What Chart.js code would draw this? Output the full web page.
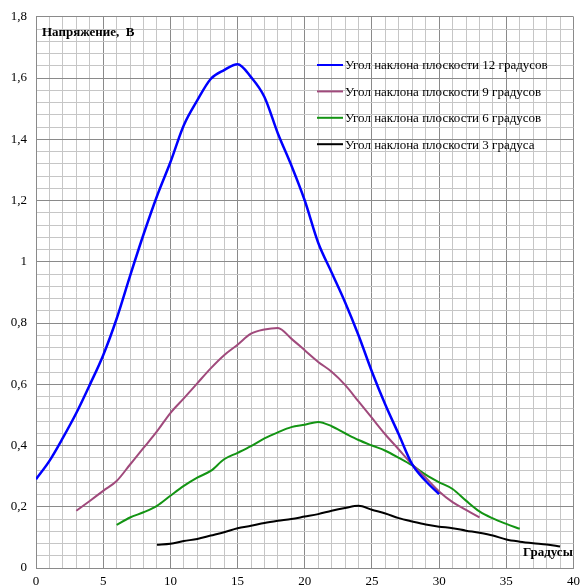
<!DOCTYPE html>
<html>
<head>
<meta charset="utf-8">
<script src="https://cdn.jsdelivr.net/npm/chart.js@4/dist/chart.umd.min.js"></script>
<style>
    html, body { margin: 0; padding: 0; background: #fff; }
    canvas { display: block; }
</style>
</head>
<body>
<canvas id="voltageChart" width="586" height="588"></canvas>
<script>
// Data (x = градусы, y = вольты)
const seriesNames = [
    'Угол наклона плоскости 12 градусов',
    'Угол наклона плоскости 9 градусов',
    'Угол наклона плоскости 6 градусов',
    'Угол наклона плоскости 3 градуса'
];
const seriesStart = [0, 3, 6, 9];

const volts12 = [0.29, 0.35, 0.425, 0.506, 0.598, 0.695, 0.814, 0.954, 1.089, 1.214,
    1.325, 1.446, 1.527, 1.597, 1.626, 1.645, 1.603, 1.538, 1.419, 1.315,
    1.2, 1.062, 0.965, 0.868, 0.76, 0.641, 0.533, 0.436, 0.338, 0.284, 0.241];
const volts9 = [0.187, 0.219, 0.252, 0.284, 0.338, 0.392, 0.446, 0.506, 0.554, 0.603,
    0.652, 0.695, 0.729, 0.765, 0.779, 0.784, 0.749, 0.711, 0.673, 0.641,
    0.598, 0.544, 0.49, 0.436, 0.387, 0.338, 0.295, 0.25, 0.215, 0.19, 0.165];
const volts6 = [0.141, 0.165, 0.182, 0.203, 0.236, 0.268, 0.295, 0.317, 0.355, 0.376,
    0.398, 0.423, 0.443, 0.46, 0.468, 0.477, 0.463, 0.44, 0.418, 0.4,
    0.383, 0.36, 0.335, 0.305, 0.28, 0.258, 0.22, 0.185, 0.162, 0.144, 0.128];
const volts3 = [0.076, 0.079, 0.088, 0.095, 0.106, 0.117, 0.13, 0.138, 0.147, 0.154,
    0.16, 0.168, 0.176, 0.187, 0.196, 0.203, 0.19, 0.178, 0.163, 0.152,
    0.142, 0.135, 0.13, 0.122, 0.115, 0.106, 0.093, 0.086, 0.081, 0.077, 0.07];

const xTickLabels = [0, 5, 10, 15, 20, 25, 30, 35, 40];
const yTickLabels = ['0', '0,2', '0,4', '0,6', '0,8', '1', '1,2', '1,4', '1,6', '1,8'];

const lineColors = ['#0000ff', '#a04a7c', '#139413', '#000000'];
const lineWidths = [2.5, 2, 2, 2];

const serif = "'Liberation Serif', 'Times New Roman', serif";
const majorGrid = '#8a8a8a';
const minorGrid = '#c6c6c6';

function toPoints(values, start) {
    return values.map((v, i) => ({ x: start + i, y: v }));
}

const allValues = [volts12, volts9, volts6, volts3];

// legend + axis captions inside the plot area
const captionPlugin = {
    id: 'captions',
    afterDatasetsDraw(chart) {
        const ctx = chart.ctx;
        ctx.save();
        ctx.fillStyle = '#000';
        ctx.textBaseline = 'middle';
        ctx.font = 'bold 13px ' + serif;
        ctx.textAlign = 'left';
        ctx.fillText('Напряжение,  В', 42, 33);
        ctx.fillText('Градусы', 523, 553);

        ctx.font = '13px ' + serif;
        chart.data.datasets.forEach((ds, i) => {
            const y = 65 + i * 26.4;
            ctx.strokeStyle = ds.borderColor;
            ctx.lineWidth = 2;
            ctx.beginPath();
            ctx.moveTo(317, y);
            ctx.lineTo(343, y);
            ctx.stroke();
            ctx.fillText(ds.label, 345, y + 1);
        });
        ctx.restore();
    }
};

new Chart(document.getElementById('voltageChart'), {
    type: 'line',
    data: {
        datasets: allValues.map((vals, i) => ({
            label: seriesNames[i],
            data: toPoints(vals, seriesStart[i]),
            borderColor: lineColors[i],
            borderWidth: lineWidths[i],
            pointRadius: 0,
            cubicInterpolationMode: 'monotone',
            fill: false
        }))
    },
    options: {
        responsive: false,
        animation: false,
        layout: { padding: { top: 12, right: 9, left: 0, bottom: 0 } },
        plugins: {
            legend: { display: false },
            tooltip: { enabled: false }
        },
        scales: {
            x: {
                type: 'linear',
                min: 0,
                max: 40,
                afterFit(scale) { scale.height = 20; },
                afterBuildTicks(scale) {
                    scale.ticks = [];
                    for (let i = 0; i <= 40; i++) scale.ticks.push({ value: i });
                },
                ticks: {
                    autoSkip: false,
                    maxRotation: 0,
                    padding: 6,
                    color: '#000',
                    font: { family: serif, size: 13 },
                    callback: (v) => xTickLabels.includes(v) ? String(v) : ''
                },
                grid: {
                    drawTicks: false,
                    color: (c) => c.tick && c.tick.value % 5 === 0 ? majorGrid : minorGrid
                },
                border: { color: majorGrid }
            },
            y: {
                type: 'linear',
                min: 0,
                max: 1.8,
                afterFit(scale) { scale.width = 36; },
                afterBuildTicks(scale) {
                    scale.ticks = [];
                    for (let i = 0; i <= 45; i++) scale.ticks.push({ value: Math.round(i * 4) / 100 });
                },
                ticks: {
                    autoSkip: false,
                    padding: 9,
                    color: '#000',
                    font: { family: serif, size: 13 },
                    callback: (v, idx) => idx % 5 === 0 ? yTickLabels[idx / 5] : ''
                },
                grid: {
                    drawTicks: false,
                    color: (c) => c.index % 5 === 0 ? majorGrid : minorGrid
                },
                border: { color: majorGrid }
            }
        }
    },
    plugins: [captionPlugin]
});
</script>
</body>
</html>
